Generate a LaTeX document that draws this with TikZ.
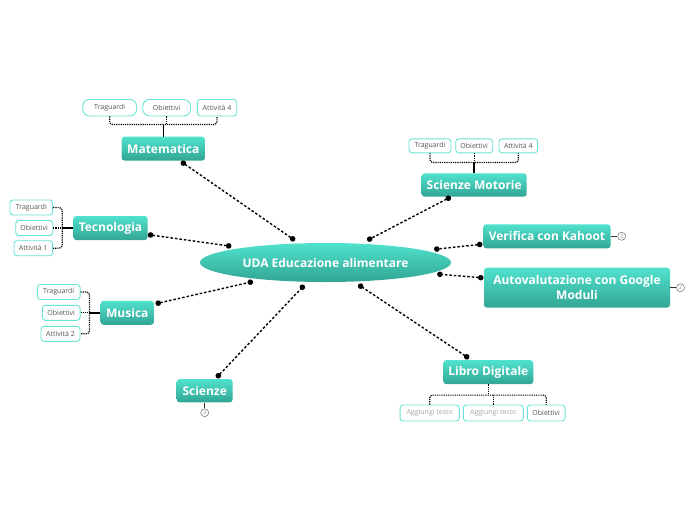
\documentclass[tikz,border=0pt]{standalone}
\usepackage{fontspec}
\setmainfont{Open Sans}
\usetikzlibrary{arrows.meta,calc,shapes.geometric}
\definecolor{ttop}{RGB}{80,226,206}
\definecolor{tbot}{RGB}{50,165,147}
\definecolor{subline}{RGB}{105,228,212}
\definecolor{subtext}{RGB}{85,85,85}
\definecolor{ghost}{RGB}{165,165,165}
\begin{document}
\begin{tikzpicture}[x=1pt,y=-1pt,
 topic/.style={rounded corners=3pt, top color=ttop, bottom color=tbot, text=white, font=\fontsize{12}{14.5}\selectfont\bfseries, inner sep=0pt, minimum height=24pt, align=center},
 sub/.style={draw=subline, line width=0.9pt, fill=white, rounded corners=3pt, text=subtext, font=\fontsize{7}{8}\selectfont, inner sep=0pt, minimum height=15pt},
 conn/.style={line width=1.4pt, dash pattern=on 2.5pt off 2pt, arrows={Circle[length=5.5pt,width=5.5pt]-Circle[length=5.5pt,width=5.5pt]}},
 brk/.style={line width=1.2pt, dash pattern=on 1.2pt off 1pt, rounded corners=3pt},
 stem/.style={line width=1.5pt},
 num/.style={circle, draw=gray, line width=0.6pt, fill=white, inner sep=0pt, minimum size=8pt, font=\fontsize{5}{5}\selectfont, text=gray},
 numln/.style={line width=1pt, draw=black!80}]
\useasboundingbox (0,0) rectangle (696,520);
\fill[white] (0,0) rectangle (696,520);

% central
\node[ellipse, top color=ttop, bottom color=tbot, minimum width=251pt, minimum height=39pt, inner sep=0pt, text=white, font=\fontsize{12}{14.5}\selectfont\bfseries] (uda) at (325.5,262.5) {UDA Educazione alimentare};

% Matematica
\node[topic, minimum width=83.3pt] (mat) at (163.3,148.7) {Matematica};
\node[sub, rounded corners=7pt, minimum width=54pt, minimum height=16.5pt] (mt1) at (109.7,107.7) {Traguardi};
\node[sub, rounded corners=7pt, minimum width=48pt, minimum height=16.5pt] (mt2) at (166.7,107.7) {Obiettivi};
\node[sub, minimum width=39.4pt, minimum height=16.5pt] (mt3) at (217,107.7) {Attività 4};
\coordinate (mj) at ($(mat.north)+(0,-12)$);
\draw[brk] (mt1.south) |- (mj) -| (mt3.south);
\draw[brk] (mt2.south) -- (mt2.south |- mj);
\draw[stem] (mat.north) -- (mj);

% Tecnologia
\node[topic, minimum width=74.3pt] (tec) at (110.5,228) {Tecnologia};
\node[sub, minimum width=42.7pt] (tt1) at (31.3,207.5) {Traguardi};
\node[sub, minimum width=37pt] (tt2) at (34.2,228) {Obiettivi};
\node[sub, minimum width=38.7pt] (tt3) at (33.3,248.2) {Attività 1};
\coordinate (tj) at ($(tec.west)+(-11,0)$);
\draw[brk] (tt1.east) -| (tj) |- (tt3.east);
\draw[brk] (tt2.east) -- (tj);
\draw[stem] (tec.west) -- (tj);

% Musica
\node[topic, minimum width=53.3pt] (mus) at (127.3,312.8) {Musica};
\node[sub, minimum width=42.7pt] (mu1) at (58.7,292) {Traguardi};
\node[sub, minimum width=37.7pt] (mu2) at (61.2,312.8) {Obiettivi};
\node[sub, minimum width=39pt] (mu3) at (60.5,333.8) {Attività 2};
\coordinate (uj) at ($(mus.west)+(-11,0)$);
\draw[brk] (mu1.east) -| (uj) |- (mu3.east);
\draw[brk] (mu2.east) -- (uj);
\draw[stem] (mus.west) -- (uj);

% Scienze
\node[topic, minimum width=56pt, minimum height=23.3pt] (sci) at (204.7,390.7) {Scienze};
\node[num] (sc3) at (204.7,412.7) {3};
\draw[numln] (sci.south) -- (sc3.north);

% Scienze Motorie
\node[topic, minimum width=105pt, minimum height=23.3pt] (sm) at (474.2,185) {Scienze Motorie};
\node[sub, minimum width=42pt, minimum height=14pt] (sm1) at (430,145.8) {Traguardi};
\node[sub, minimum width=37pt, minimum height=14pt] (sm2) at (474.2,145.8) {Obiettivi};
\node[sub, minimum width=38.7pt, minimum height=14pt] (sm3) at (518.3,145.8) {Attività 4};
\coordinate (sj) at ($(sm.north)+(0,-10.6)$);
\draw[brk] (sm1.south) |- (sj) -| (sm3.south);
\draw[brk] (sm2.south) -- (sj);
\draw[stem] (sm.north) -- (sj);

% Verifica
\node[topic, minimum width=127.3pt] (ver) at (547,236.3) {Verifica con Kahoot};
\node[num] (ve2) at (621.7,236.3) {2};
\draw[numln] (ver.east) -- (ve2.west);

% Autovalutazione
\node[topic, minimum width=186pt, minimum height=40pt] (auto) at (577,287.7) {Autovalutazione con Google\\Moduli};
\node[num] (au2) at (680.5,287.7) {2};
\draw[numln] (auto.east) -- (au2.west);

% Libro Digitale
\node[topic, minimum width=90pt] (lib) at (488.3,372.2) {Libro Digitale};
\node[sub, minimum width=59.3pt, minimum height=16pt, text=ghost] (lb1) at (429.7,413) {Aggiungi testo};
\node[sub, minimum width=60pt, minimum height=16pt, text=ghost] (lb2) at (493.3,413) {Aggiungi testo};
\node[sub, minimum width=37.7pt, minimum height=16pt] (lb3) at (546.2,413) {Obiettivi};
\coordinate (lj) at ($(lib.south)+(0,10.7)$);
\draw[brk] (lb1.north) |- (lj) -| (lb3.north);
\draw[brk] (lb2.north) -- (lb2.north |- lj);
\draw[brk, line width=1.5pt] (lib.south) -- (lj);

% connectors: dots sit in the gap between the borders
\draw[conn, shorten <=1.2pt, shorten >=5pt]   (mat.-36.2) -- (uda.144.9);
\draw[conn, shorten <=0pt,   shorten >=10.7pt](tec.-10.2) -- (uda.170);
\draw[conn, shorten <=1.4pt, shorten >=9.3pt] (mus.18.5)  -- (uda.195.1);
\draw[conn, shorten <=1.5pt, shorten >=4.5pt] (sci.48.2)  -- (uda.227.8);
\draw[conn, shorten <=0.2pt, shorten >=7pt]   (sm.207.3)  -- (uda.28.2);
\draw[conn, shorten <=0.7pt, shorten >=9.7pt] (ver.187.5) -- (uda.7.3);
\draw[conn, shorten <=0.3pt, shorten >=7.3pt] (auto.174.4) -- (uda.-6.15);
\draw[conn, shorten <=3pt,   shorten >=5.3pt] (lib.144)   -- (uda.-34.5);
\end{tikzpicture}
\end{document}
